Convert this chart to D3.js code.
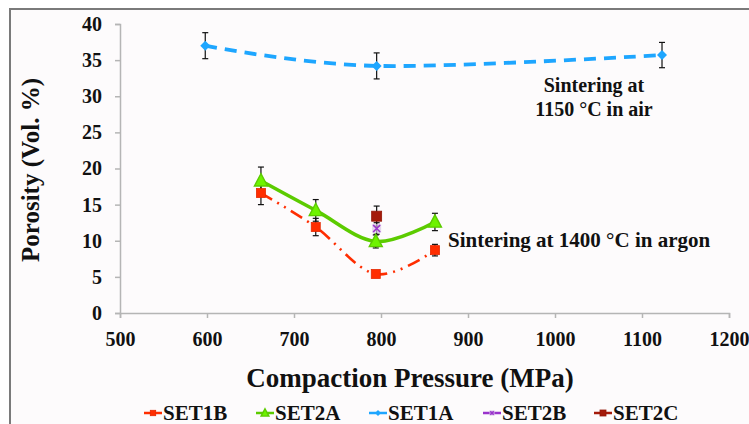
<!DOCTYPE html>
<html>
<head>
<meta charset="utf-8">
<script src="https://cdn.jsdelivr.net/npm/d3@7"></script>
<style>
  html, body { margin: 0; padding: 0; background: #ffffff; }
  svg { display: block; }
</style>
</head>
<body>
<div id="chart"></div>
<script>
// --- data ---
const xTicks = [500, 600, 700, 800, 900, 1000, 1100, 1200];
const yTicks = [0, 5, 10, 15, 20, 25, 30, 35, 40];

const set1bPressure = [662, 725, 794, 862];
const set1bPorosity = [16.6, 11.9, 5.4, 8.7];
const set1bError = [1.6, 1.2, 0.4, 0.8];

const set2aPressure = [662, 725, 794, 862];
const set2aPorosity = [18.3, 14.2, 9.9, 12.6];
const set2aError = [1.9, 1.5, 0.9, 1.2];

const set1aPressure = [598, 795, 1123];
const set1aPorosity = [37.0, 34.2, 35.7];
const set1aError = [1.8, 1.8, 1.75];

const set2bPressure = [795];
const set2bPorosity = [11.7];
const set2bError = [0.8];

const set2cPressure = [795];
const set2cPorosity = [13.4];
const set2cError = [1.4];

const legendNames = ["SET1B", "SET2A", "SET1A", "SET2B", "SET2C"];

(function () {
  const W = 749, H = 424;
  const FONT = '"Liberation Serif", "Times New Roman", Tinos, Times, "DejaVu Serif", "Noto Serif", serif';

  const svg = d3.select("#chart").append("svg")
    .attr("width", W).attr("height", H)
    .style("font-family", FONT)
    .style("font-weight", "bold");

  // chart area frame (only top + left edges show in the crop)
  svg.append("rect")
    .attr("x", 10).attr("y", 9)
    .attr("width", W + 10).attr("height", H + 10)
    .attr("fill", "#fdfbfc")
    .attr("stroke", "#7a7a7a").attr("stroke-width", 2);

  const x = d3.scaleLinear().domain([500, 1200]).range([120, 729]);
  const y = d3.scaleLinear().domain([0, 40]).range([313, 24]);

  // --- axes ---
  const xAxis = svg.append("g")
    .attr("transform", `translate(0,${y(0)})`)
    .call(d3.axisBottom(x).tickValues(xTicks).tickFormat(d3.format("d")).tickSize(5).tickPadding(14));
  const yAxis = svg.append("g")
    .attr("transform", `translate(${x(500)},0)`)
    .call(d3.axisLeft(y).tickValues(yTicks).tickFormat(d3.format("d")).tickSize(5).tickPadding(13));
  [xAxis, yAxis].forEach((g) => {
    g.attr("font-family", null).attr("font-size", null);
    g.select(".domain").attr("stroke", "#b5b5b5").attr("stroke-width", 1.5);
    g.selectAll(".tick line").attr("stroke", "#b5b5b5").attr("stroke-width", 1.5);
    g.selectAll(".tick text")
      .attr("fill", "#111")
      .style("font-family", FONT)
      .style("font-weight", "bold")
      .style("font-size", "20px");
  });

  // axis titles
  svg.append("text")
    .attr("x", 410).attr("y", 387)
    .attr("text-anchor", "middle")
    .attr("fill", "#111")
    .style("font-size", "27px")
    .text("Compaction Pressure (MPa)");
  svg.append("text")
    .attr("transform", "translate(39,170) rotate(-90)")
    .attr("text-anchor", "middle")
    .attr("fill", "#111")
    .style("font-size", "25px")
    .text("Porosity (Vol. %)");

  const zip = (xs, ys, es) => xs.map((v, i) => ({ x: v, y: ys[i], e: es[i] }));
  const series = [
    { name: "SET1B", pts: zip(set1bPressure, set1bPorosity, set1bError), color: "#ff2d00", line: true, width: 2.6, dash: "13 6 2 6 2 6", marker: "square", size: 9 },
    { name: "SET2A", pts: zip(set2aPressure, set2aPorosity, set2aError), color: "#5ccb00", line: true, width: 3.6, dash: null, marker: "triangle", size: 13 },
    { name: "SET1A", pts: zip(set1aPressure, set1aPorosity, set1aError), color: "#1ea6ff", line: true, width: 3.8, dash: "12 8", marker: "diamond", size: 10 },
    { name: "SET2B", pts: zip(set2bPressure, set2bPorosity, set2bError), color: "#9a33cc", line: false, marker: "cross", size: 9 },
    { name: "SET2C", pts: zip(set2cPressure, set2cPorosity, set2cError), color: "#a41a0a", line: false, marker: "square", size: 10 },
  ];

  const lineGen = d3.line()
    .x((d) => x(d.x)).y((d) => y(d.y))
    .curve(d3.curveCatmullRom.alpha(0));

  series.filter((s) => s.line).forEach((s) => {
    svg.append("path")
      .datum(s.pts)
      .attr("d", lineGen)
      .attr("fill", "none")
      .attr("stroke", s.color)
      .attr("stroke-width", s.width)
      .attr("stroke-dasharray", s.dash);
  });

  // error bars
  series.forEach((s) => {
    const g = svg.append("g").attr("stroke", "#111").attr("stroke-width", 1.2);
    s.pts.forEach((d) => {
      const cx = x(d.x);
      g.append("line").attr("x1", cx).attr("x2", cx).attr("y1", y(d.y + d.e)).attr("y2", y(d.y - d.e));
      [d.y + d.e, d.y - d.e].forEach((v) => {
        g.append("line").attr("x1", cx - 3).attr("x2", cx + 3).attr("y1", y(v)).attr("y2", y(v));
      });
    });
  });

  function drawMarker(g, type, cx, cy, size, color) {
    const h = size / 2;
    if (type === "square") {
      g.append("rect").attr("x", cx - h).attr("y", cy - h).attr("width", size).attr("height", size)
        .attr("fill", color).attr("stroke", d3.color(color).darker(0.3)).attr("stroke-width", 0.8);
    } else if (type === "triangle") {
      g.append("path")
        .attr("d", `M${cx},${cy - h * 1.1}L${cx + h},${cy + h * 0.8}L${cx - h},${cy + h * 0.8}Z`)
        .attr("fill", d3.color(color).brighter(0.5)).attr("stroke", color).attr("stroke-width", 1.4);
    } else if (type === "diamond") {
      g.append("path")
        .attr("d", `M${cx},${cy - h}L${cx + h},${cy}L${cx},${cy + h}L${cx - h},${cy}Z`)
        .attr("fill", color);
    } else if (type === "cross") {
      g.append("rect").attr("x", cx - h).attr("y", cy - h).attr("width", size).attr("height", size)
        .attr("fill", "#d8c8e8").attr("opacity", 0.7);
      g.append("path")
        .attr("d", `M${cx - h + 1},${cy - h + 1}L${cx + h - 1},${cy + h - 1}M${cx + h - 1},${cy - h + 1}L${cx - h + 1},${cy + h - 1}`)
        .attr("stroke", color).attr("stroke-width", 1.6);
    }
  }

  series.forEach((s) => {
    const g = svg.append("g");
    s.pts.forEach((d) => drawMarker(g, s.marker, x(d.x), y(d.y), s.size, s.color));
  });

  // annotations
  const ann = svg.append("g").style("font-size", "20px").attr("text-anchor", "middle").attr("fill", "#111");
  ann.append("text").attr("x", 594).attr("y", 92).text("Sintering at");
  ann.append("text").attr("x", 594).attr("y", 116).text("1150 °C in air");
  svg.append("text").attr("x", 448).attr("y", 247).attr("fill", "#111").style("font-size", "21px")
    .text("Sintering at 1400 °C in argon");

  // legend
  const legendX = [144, 256, 369, 483, 594];
  const lg = svg.append("g");
  legendNames.forEach((name, i) => {
    const s = series.find((d) => d.name === name);
    const lx = legendX[i], ly = 413;
    lg.append("line").attr("x1", lx).attr("x2", lx + 18).attr("y1", ly).attr("y2", ly)
      .attr("stroke", s.color).attr("stroke-width", 2.5);
    drawMarker(lg, s.marker, lx + 9, ly, s.size * 0.6, s.color);
    lg.append("text").attr("x", lx + 19).attr("y", ly + 7).attr("fill", "#111")
      .style("font-size", "21px").text(name);
  });
})();
</script>
</body>
</html>
